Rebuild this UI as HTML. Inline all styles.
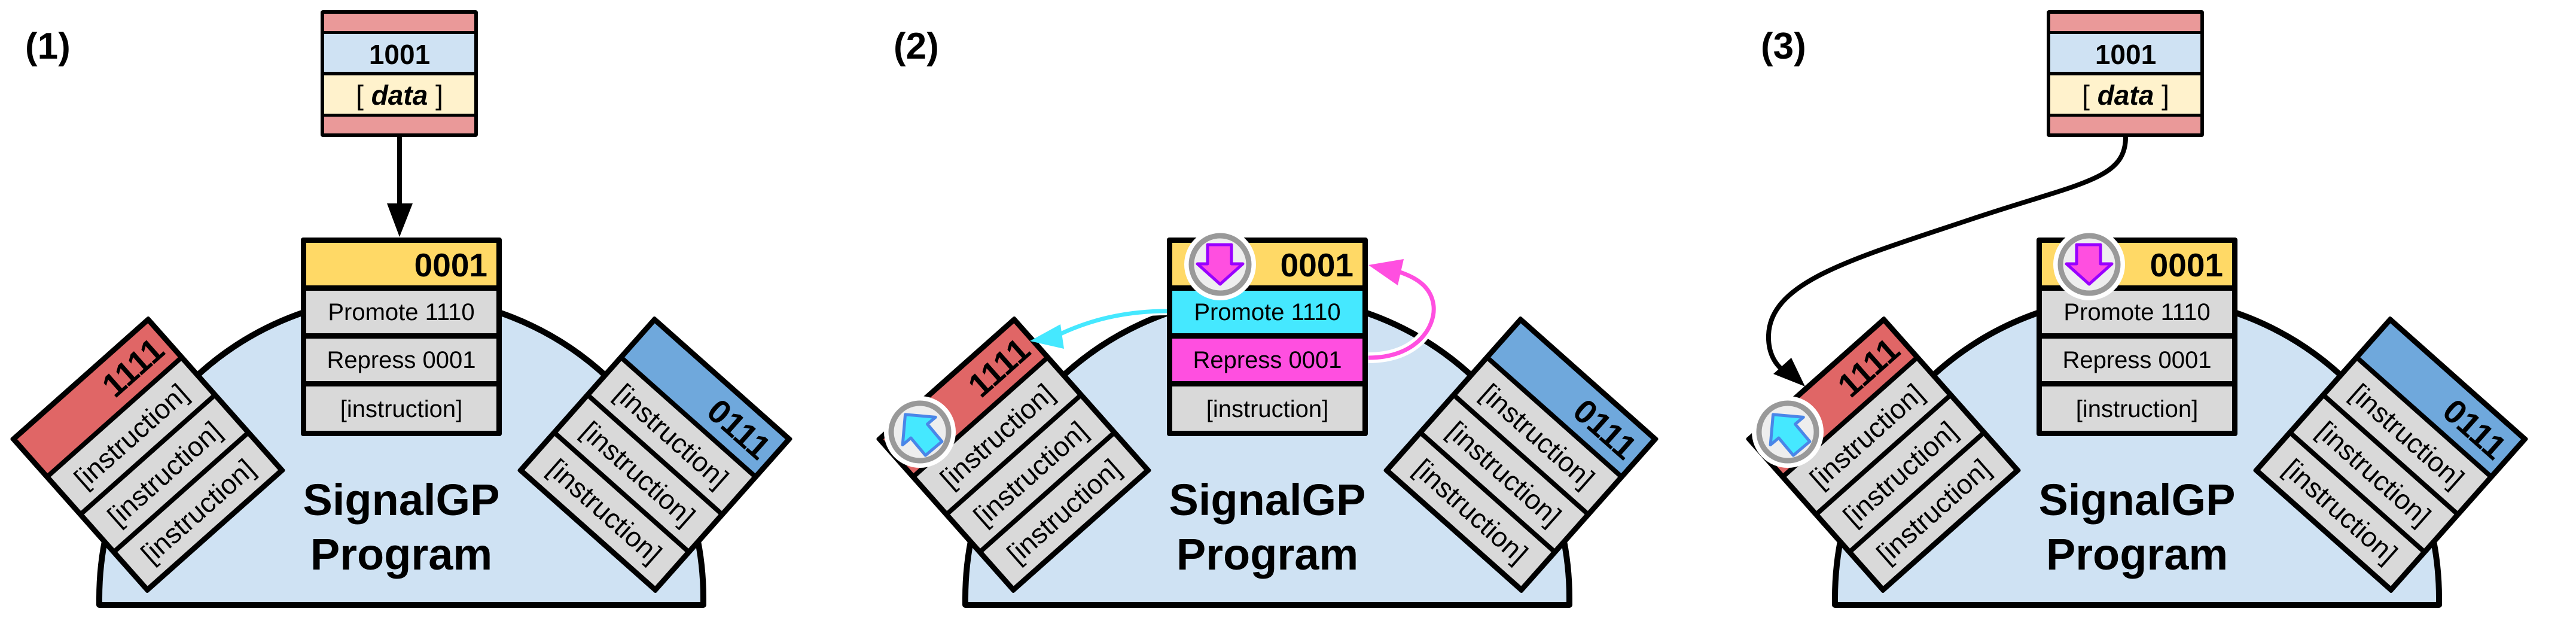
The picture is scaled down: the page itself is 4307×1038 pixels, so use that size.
<!DOCTYPE html>
<html><head><meta charset="utf-8"><style>
html,body{margin:0;padding:0;background:#fff;}
svg{display:block;}
text{font-family:"Liberation Sans",Arial,sans-serif;}
</style></head><body>
<svg width="4307" height="1038" viewBox="0 0 4307 1038" xmlns="http://www.w3.org/2000/svg">
<!-- ============ PANEL 1 ============ -->
<g>
<text x="42" y="98" font-size="62" font-weight="bold">(1)</text>
<path d="M166,1011 L166,1000 A505,505 0 0 1 1176,1000 L1176,1011 Z" fill="#cfe2f3" stroke="#000" stroke-width="10" stroke-linejoin="round"/>
<text x="671" y="861" font-size="74" font-weight="bold" text-anchor="middle">SignalGP</text>
<text x="671" y="952" font-size="74" font-weight="bold" text-anchor="middle">Program</text>
<g transform="translate(247,760) rotate(-41.6)">
<rect x="-155" y="-173" width="310" height="346" rx="3" fill="#000"/>
<rect x="-146" y="-164" width="292" height="76" fill="#e06666"/>
<rect x="-146" y="-80" width="292" height="76" fill="#d9d9d9"/>
<rect x="-146" y="4" width="292" height="76" fill="#d9d9d9"/>
<rect x="-146" y="88" width="292" height="76" fill="#d9d9d9"/>
<text x="136" y="-106" font-size="56" font-weight="bold" text-anchor="end">1111</text>
<text x="0" y="-26" font-size="46" text-anchor="middle">[instruction]</text>
<text x="0" y="58" font-size="46" text-anchor="middle">[instruction]</text>
<text x="0" y="142" font-size="46" text-anchor="middle">[instruction]</text>
</g>
<g transform="translate(1095,760) rotate(41.6)">
<rect x="-155" y="-173" width="310" height="346" rx="3" fill="#000"/>
<rect x="-146" y="-164" width="292" height="76" fill="#6fa8dc"/>
<rect x="-146" y="-80" width="292" height="76" fill="#d9d9d9"/>
<rect x="-146" y="4" width="292" height="76" fill="#d9d9d9"/>
<rect x="-146" y="88" width="292" height="76" fill="#d9d9d9"/>
<text x="136" y="-106" font-size="56" font-weight="bold" text-anchor="end">0111</text>
<text x="0" y="-26" font-size="46" text-anchor="middle">[instruction]</text>
<text x="0" y="58" font-size="46" text-anchor="middle">[instruction]</text>
<text x="0" y="142" font-size="46" text-anchor="middle">[instruction]</text>
</g>
<rect x="503" y="397" width="336" height="332" rx="4" fill="#000"/>
<rect x="512" y="406" width="318" height="71" fill="#ffd966"/>
<rect x="512" y="486" width="318" height="71" fill="#d9d9d9"/>
<rect x="512" y="566" width="318" height="71" fill="#d9d9d9"/>
<rect x="512" y="646" width="318" height="74" fill="#d9d9d9"/>
<text x="815" y="462" font-size="55" font-weight="bold" text-anchor="end">0001</text>
<text x="671" y="535" font-size="40" text-anchor="middle">Promote 1110</text>
<text x="671" y="615" font-size="40" text-anchor="middle">Repress 0001</text>
<text x="671" y="697" font-size="40" text-anchor="middle">[instruction]</text>
<rect x="536" y="17" width="263" height="212" rx="4" fill="#000"/>
<rect x="542" y="23" width="251" height="29" fill="#ea9999"/>
<rect x="542" y="57" width="251" height="63" fill="#cfe2f3"/>
<rect x="542" y="126" width="251" height="64" fill="#fff2cc"/>
<rect x="542" y="195" width="251" height="28" fill="#ea9999"/>
<text x="668" y="107" font-size="46" font-weight="bold" text-anchor="middle">1001</text>
<text x="668" y="175" font-size="46" text-anchor="middle">[ <tspan font-weight="bold" font-style="italic">data</tspan> ]</text>
<line x1="668" y1="229" x2="668" y2="345" stroke="#000" stroke-width="8"/>
<polygon points="647,340 690,340 668,396" fill="#000"/>
</g>

<!-- ============ PANEL 2 ============ -->
<g>
<text x="1494" y="98" font-size="62" font-weight="bold">(2)</text>
<path d="M1614,1011 L1614,1000 A505,505 0 0 1 2624,1000 L2624,1011 Z" fill="#cfe2f3" stroke="#000" stroke-width="10" stroke-linejoin="round"/>
<text x="2119" y="861" font-size="74" font-weight="bold" text-anchor="middle">SignalGP</text>
<text x="2119" y="952" font-size="74" font-weight="bold" text-anchor="middle">Program</text>
<g transform="translate(1695,760) rotate(-41.6)">
<rect x="-155" y="-173" width="310" height="346" rx="3" fill="#000"/>
<rect x="-146" y="-164" width="292" height="76" fill="#e06666"/>
<rect x="-146" y="-80" width="292" height="76" fill="#d9d9d9"/>
<rect x="-146" y="4" width="292" height="76" fill="#d9d9d9"/>
<rect x="-146" y="88" width="292" height="76" fill="#d9d9d9"/>
<text x="136" y="-106" font-size="56" font-weight="bold" text-anchor="end">1111</text>
<text x="0" y="-26" font-size="46" text-anchor="middle">[instruction]</text>
<text x="0" y="58" font-size="46" text-anchor="middle">[instruction]</text>
<text x="0" y="142" font-size="46" text-anchor="middle">[instruction]</text>
</g>
<g transform="translate(2543,760) rotate(41.6)">
<rect x="-155" y="-173" width="310" height="346" rx="3" fill="#000"/>
<rect x="-146" y="-164" width="292" height="76" fill="#6fa8dc"/>
<rect x="-146" y="-80" width="292" height="76" fill="#d9d9d9"/>
<rect x="-146" y="4" width="292" height="76" fill="#d9d9d9"/>
<rect x="-146" y="88" width="292" height="76" fill="#d9d9d9"/>
<text x="136" y="-106" font-size="56" font-weight="bold" text-anchor="end">0111</text>
<text x="0" y="-26" font-size="46" text-anchor="middle">[instruction]</text>
<text x="0" y="58" font-size="46" text-anchor="middle">[instruction]</text>
<text x="0" y="142" font-size="46" text-anchor="middle">[instruction]</text>
</g>
<rect x="1951" y="397" width="336" height="332" rx="4" fill="#000"/>
<rect x="1960" y="406" width="318" height="71" fill="#ffd966"/>
<rect x="1960" y="486" width="318" height="71" fill="#45e8ff"/>
<rect x="1960" y="566" width="318" height="71" fill="#ff4fe0"/>
<rect x="1960" y="646" width="318" height="74" fill="#d9d9d9"/>
<text x="2263" y="462" font-size="55" font-weight="bold" text-anchor="end">0001</text>
<text x="2119" y="535" font-size="40" text-anchor="middle">Promote 1110</text>
<text x="2119" y="615" font-size="40" text-anchor="middle">Repress 0001</text>
<text x="2119" y="697" font-size="40" text-anchor="middle">[instruction]</text>
<path d="M1951,520 C1880,520 1820,535 1765,562" fill="none" stroke="#fff" stroke-width="14"/>
<path d="M1951,520 C1880,520 1820,535 1765,562" fill="none" stroke="#45e8ff" stroke-width="7"/>
<polygon points="1722,570 1773,542 1779,583" fill="#45e8ff"/>
<path d="M2288,598 C2370,598 2400,545 2397,512 C2394,482 2372,465 2338,454" fill="none" stroke="#fff" stroke-width="18"/>
<path d="M2288,598 C2370,598 2400,545 2397,512 C2394,482 2372,465 2338,454" fill="none" stroke="#ff4fe0" stroke-width="7"/>
<polygon points="2288,443 2347,433 2337,477" fill="#ff4fe0"/>
<g transform="translate(2040,442)">
<circle r="60" fill="#fff"/><circle r="48" fill="#eeeeee" stroke="#999" stroke-width="9"/>
<polygon points="-21,-33 19,-33 19,-1 38,-1 0,33 -38,-1 -21,-1" fill="#ff4fe0" stroke="#9900ff" stroke-width="5" stroke-linejoin="round"/>
</g>
<g transform="translate(1538,722)">
<circle r="60" fill="#fff"/><circle r="48" fill="#eeeeee" stroke="#999" stroke-width="9"/>
<polygon points="0,-38 36,-2 18,-2 18,36 -18,36 -18,-2 -36,-2" transform="rotate(-40)" fill="#45e8ff" stroke="#4a86e8" stroke-width="5" stroke-linejoin="round"/>
</g>
</g>

<!-- ============ PANEL 3 ============ -->
<g>
<text x="2944" y="98" font-size="62" font-weight="bold">(3)</text>
<path d="M3068,1011 L3068,1000 A505,505 0 0 1 4078,1000 L4078,1011 Z" fill="#cfe2f3" stroke="#000" stroke-width="10" stroke-linejoin="round"/>
<text x="3573" y="861" font-size="74" font-weight="bold" text-anchor="middle">SignalGP</text>
<text x="3573" y="952" font-size="74" font-weight="bold" text-anchor="middle">Program</text>
<g transform="translate(3149,760) rotate(-41.6)">
<rect x="-155" y="-173" width="310" height="346" rx="3" fill="#000"/>
<rect x="-146" y="-164" width="292" height="76" fill="#e06666"/>
<rect x="-146" y="-80" width="292" height="76" fill="#d9d9d9"/>
<rect x="-146" y="4" width="292" height="76" fill="#d9d9d9"/>
<rect x="-146" y="88" width="292" height="76" fill="#d9d9d9"/>
<text x="136" y="-106" font-size="56" font-weight="bold" text-anchor="end">1111</text>
<text x="0" y="-26" font-size="46" text-anchor="middle">[instruction]</text>
<text x="0" y="58" font-size="46" text-anchor="middle">[instruction]</text>
<text x="0" y="142" font-size="46" text-anchor="middle">[instruction]</text>
</g>
<g transform="translate(3997,760) rotate(41.6)">
<rect x="-155" y="-173" width="310" height="346" rx="3" fill="#000"/>
<rect x="-146" y="-164" width="292" height="76" fill="#6fa8dc"/>
<rect x="-146" y="-80" width="292" height="76" fill="#d9d9d9"/>
<rect x="-146" y="4" width="292" height="76" fill="#d9d9d9"/>
<rect x="-146" y="88" width="292" height="76" fill="#d9d9d9"/>
<text x="136" y="-106" font-size="56" font-weight="bold" text-anchor="end">0111</text>
<text x="0" y="-26" font-size="46" text-anchor="middle">[instruction]</text>
<text x="0" y="58" font-size="46" text-anchor="middle">[instruction]</text>
<text x="0" y="142" font-size="46" text-anchor="middle">[instruction]</text>
</g>
<rect x="3405" y="397" width="336" height="332" rx="4" fill="#000"/>
<rect x="3414" y="406" width="318" height="71" fill="#ffd966"/>
<rect x="3414" y="486" width="318" height="71" fill="#d9d9d9"/>
<rect x="3414" y="566" width="318" height="71" fill="#d9d9d9"/>
<rect x="3414" y="646" width="318" height="74" fill="#d9d9d9"/>
<text x="3717" y="462" font-size="55" font-weight="bold" text-anchor="end">0001</text>
<text x="3573" y="535" font-size="40" text-anchor="middle">Promote 1110</text>
<text x="3573" y="615" font-size="40" text-anchor="middle">Repress 0001</text>
<text x="3573" y="697" font-size="40" text-anchor="middle">[instruction]</text>
<rect x="3422" y="17" width="263" height="212" rx="4" fill="#000"/>
<rect x="3428" y="23" width="251" height="29" fill="#ea9999"/>
<rect x="3428" y="57" width="251" height="63" fill="#cfe2f3"/>
<rect x="3428" y="126" width="251" height="64" fill="#fff2cc"/>
<rect x="3428" y="195" width="251" height="28" fill="#ea9999"/>
<text x="3554" y="107" font-size="46" font-weight="bold" text-anchor="middle">1001</text>
<text x="3554" y="175" font-size="46" text-anchor="middle">[ <tspan font-weight="bold" font-style="italic">data</tspan> ]</text>
<path d="M3554,229 C3554,300 3480,305 3300,365 C3100,432 2960,470 2957,560 C2956,590 2968,610 2985,622" fill="none" stroke="#000" stroke-width="8"/>
<polygon points="3018,646 2965,625 2995,598" fill="#000"/>
<g transform="translate(3493,442)">
<circle r="60" fill="#fff"/><circle r="48" fill="#eeeeee" stroke="#999" stroke-width="9"/>
<polygon points="-21,-33 19,-33 19,-1 38,-1 0,33 -38,-1 -21,-1" fill="#ff4fe0" stroke="#9900ff" stroke-width="5" stroke-linejoin="round"/>
</g>
<g transform="translate(2989,722)">
<circle r="60" fill="#fff"/><circle r="48" fill="#eeeeee" stroke="#999" stroke-width="9"/>
<polygon points="0,-38 36,-2 18,-2 18,36 -18,36 -18,-2 -36,-2" transform="rotate(-40)" fill="#45e8ff" stroke="#4a86e8" stroke-width="5" stroke-linejoin="round"/>
</g>
</g>
</svg>
</body></html>
